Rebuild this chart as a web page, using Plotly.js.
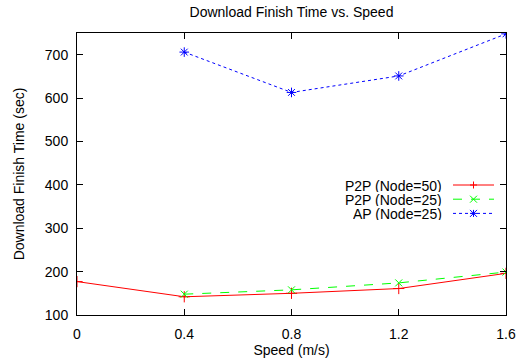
<!DOCTYPE html>
<html>
<head>
<meta charset="utf-8">
<script src="https://cdn.plot.ly/plotly-3.0.1.min.js"></script>
<style>html,body{margin:0;padding:0;background:#fff;}#chart{width:519px;height:362px;}</style>
</head>
<body>
<div id="chart"></div>
<script>
const speedsP2P50 = [0, 0.4, 0.8, 1.2, 1.6];
const timeP2P50 = [177, 142, 150, 161, 196];
const speedsP2P25 = [0.4, 0.8, 1.2, 1.6];
const timeP2P25 = [148, 158, 174, 199];
const speedsAP25 = [0.4, 0.8, 1.2, 1.6];
const timeAP25 = [706, 613, 651, 748];
const seriesNames = ["P2P (Node=50)", "P2P (Node=25)", "AP (Node=25)"];
const xTicks = [0, 0.4, 0.8, 1.2, 1.6];
const xTickText = ["0", "0.4", "0.8", "1.2", "1.6"];
const yTicks = [100, 200, 300, 400, 500, 600, 700];

const fontFam = "Liberation Sans, Arial, Helvetica, sans-serif";
const W = 519, H = 362;
const M = {l: 77, r: 13, t: 33, b: 47};
const PW = W - M.l - M.r, PH = H - M.t - M.b;
// pixel -> paper helpers (for the hand-drawn gnuplot-style key)
const px = v => (v - M.l) / PW;
const py = v => (H - M.b - v) / PH;

const colors = ["#ff0000", "#00ff00", "#0000ff"];
const dashes = ["solid", "dash", "dot"];
const symbols = ["cross-thin", "x-thin", "asterisk-open"];

const traces = [
  {x: speedsP2P50, y: timeP2P50, name: seriesNames[0], mode: "lines+markers",
   line: {color: colors[0], width: 1},
   marker: {symbol: symbols[0], size: 8, line: {color: colors[0], width: 1}, color: colors[0]}},
  {x: speedsP2P25, y: timeP2P25, name: seriesNames[1], mode: "lines+markers",
   line: {color: colors[1], width: 1, dash: dashes[1]},
   marker: {symbol: symbols[1], size: 7, line: {color: colors[1], width: 1}, color: colors[1]}},
  {x: speedsAP25, y: timeAP25, name: seriesNames[2], mode: "lines+markers",
   line: {color: colors[2], width: 1, dash: dashes[2]},
   marker: {symbol: symbols[2], size: 8, line: {color: colors[2], width: 1}, color: colors[2]}}
];

// gnuplot-style key: text right-aligned, sample line on the right
const keyTop = 185, keyStep = 14.2, keyTextRight = 443, keyLine0 = 453, keyLine1 = 494, keyMark = 473.5;
const annotations = [];
const shapes = [];
seriesNames.forEach((nm, i) => {
  const yc = keyTop + i * keyStep;
  annotations.push({xref: "paper", yref: "paper", x: px(keyTextRight), y: py(yc), xanchor: "right", yanchor: "middle",
    text: nm, showarrow: false, height: 13, borderpad: 0, font: {family: fontFam, size: 14, color: "#000"}});
  shapes.push({type: "line", xref: "paper", yref: "paper", x0: px(keyLine0), x1: px(keyLine1), y0: py(yc), y1: py(yc),
    line: {color: colors[i], width: 1, dash: dashes[i]}});
  const r = 3.5;
  let path = "";
  const seg = (ax, ay, bx, by) => `M${px(ax)},${py(ay)}L${px(bx)},${py(by)}`;
  if (i === 0) {
    path = seg(keyMark - r, yc, keyMark + r, yc) + seg(keyMark, yc - r, keyMark, yc + r);
  } else if (i === 1) {
    path = seg(keyMark - r, yc - r, keyMark + r, yc + r) + seg(keyMark - r, yc + r, keyMark + r, yc - r);
  } else {
    path = seg(keyMark - r, yc, keyMark + r, yc) + seg(keyMark, yc - r, keyMark, yc + r) +
           seg(keyMark - r, yc - r, keyMark + r, yc + r) + seg(keyMark - r, yc + r, keyMark + r, yc - r);
  }
  shapes.push({type: "path", xref: "paper", yref: "paper", path: path, line: {color: colors[i], width: 1}});
});

const axisCommon = {
  showgrid: false, zeroline: false, showline: true, linecolor: "#000", linewidth: 1,
  mirror: "ticks", ticks: "inside", ticklen: 6, tickcolor: "#000", tickwidth: 1,
  tickfont: {family: fontFam, size: 14, color: "#000"}
};

const layout = {
  width: W, height: H,
  margin: M,
  paper_bgcolor: "#fff", plot_bgcolor: "#fff",
  font: {family: fontFam, size: 14, color: "#000"},
  title: {text: "Download Finish Time vs. Speed", font: {family: fontFam, size: 14, color: "#000"},
    xref: "paper", x: 0.5, xanchor: "center", y: 1 - 12 / H, yanchor: "middle"},
  xaxis: Object.assign({}, axisCommon, {range: [0, 1.6], tickvals: xTicks, ticktext: xTickText, ticklabelstandoff: 6,
    title: {text: "Speed (m/s)", font: {family: fontFam, size: 14}, standoff: 4}}),
  yaxis: Object.assign({}, axisCommon, {range: [100, 750], tickvals: yTicks, ticklabelstandoff: 5,
    title: {text: "Download Finish Time (sec)", font: {family: fontFam, size: 14}, standoff: 16}}),
  showlegend: false,
  annotations: annotations,
  shapes: shapes
};

Plotly.newPlot("chart", traces, layout, {displayModeBar: false, staticPlot: true});
</script>
</body>
</html>
